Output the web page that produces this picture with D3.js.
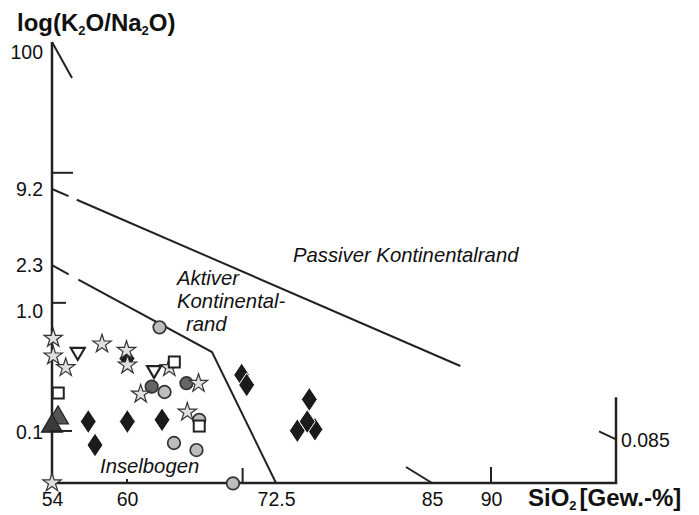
<!doctype html>
<html lang="de">
<head>
<meta charset="utf-8">
<title>log(K2O/Na2O) gegen SiO2</title>
<script src="https://cdn.jsdelivr.net/npm/d3@7/dist/d3.min.js"></script>
<style>
	body { margin: 0; background: #fff; }
	svg { font-family: "Liberation Sans", Arial, sans-serif; }
</style>
</head>
<body>
<svg id="chart" width="699" height="515"></svg>
<script>
// values: [SiO2 Gew.-%, K2O/Na2O]
var stars = [[54.1,0.595],[54.1,0.425],[55.1,0.340],[58.0,0.534],[59.96,0.472],[60.04,0.358],
	[63.55,0.341],[61.15,0.206],[66.0,0.252],[65.06,0.146],[54.0,0.0381]];
var trianglesDown = [[56.06,0.446],[62.27,0.316]];
var trianglesUp = [[54.48,0.136],[54.0,0.116]];
var squares = [[54.5,0.210],[63.97,0.379],[66.06,0.112]];
var circlesLight = [[62.73,0.733],[63.15,0.214],[63.94,0.0812],[65.83,0.0710],[68.89,0.0377],[66.06,0.126]];
var circlesDark = [[62.07,0.237],[64.99,0.253]];
var diamonds = [[60.0,0.405],[56.9,0.122],[57.44,0.0781],[60.03,0.122],[62.94,0.126],[69.62,0.296],
	[70.04,0.245],[75.17,0.186],[74.21,0.1025],[75.62,0.1052],[75.0,0.122]];

// field boundaries
var upperBoundary = [[54,9.2],[87.4,0.351]];
var lowerBoundary = [[54,2.3],[67.13,0.458],[72.5,0.038]];

// axes
var xTicks = [54,60,72.5,85,90];
var yTicks = [100,9.2,2.3,1.0,0.1];
var yTickLabels = ["100","9.2","2.3","1.0","0.1"];
var rightTick = 0.085;
var xMin = 54, xMax = 100.5, yMin = 0.038, yMax = 120, rightTop = 0.194;

var svg = d3.select("#chart");

// the diagram is not strictly linear / logarithmic, so piecewise scales
var xScale = d3.scaleLinear().domain([54,60,72.5,85,90,100.5]).range([52,127,276,432,491,616]);
var yScale = d3.scaleLog().domain([0.038,0.1,1,9.2,100,120]).range([483,432,311,189,52,42]);

var ink = "#222";

// axis lines
svg.append("path")
	.attr("d", d3.line()([[xScale(xMin),yScale(yMax)],[xScale(xMin),yScale(yMin)],[xScale(xMax),yScale(yMin)],[xScale(xMax),yScale(rightTop)]]))
	.attr("fill","none").attr("stroke",ink).attr("stroke-width",2.5);

// tick labels
var yAxis = d3.axisLeft(yScale).tickValues(yTicks).tickFormat(function(d,i){ return yTickLabels[i]; }).tickSize(0).tickPadding(9);
var gy = svg.append("g").attr("transform","translate(" + xScale(xMin) + ",0)").call(yAxis);
var xAxis = d3.axisBottom(xScale).tickValues(xTicks).tickFormat(function(d){ return String(d); }).tickSize(0).tickPadding(9.5);
var gx = svg.append("g").attr("transform","translate(0," + yScale(yMin) + ")").call(xAxis);
var rAxis = d3.axisRight(yScale).tickValues([rightTick]).tickFormat(function(){ return "0.085"; }).tickSize(0).tickPadding(5);
var gr = svg.append("g").attr("transform","translate(" + xScale(xMax) + ",0)").call(rAxis);
[gy,gx,gr].forEach(function(g){
	g.select(".domain").remove();
	g.selectAll("text").attr("font-size",19.5).attr("fill","#111").attr("font-family","Liberation Sans, Arial, sans-serif");
});

// boundary lines
var line = d3.line().x(function(d){ return xScale(d[0]); }).y(function(d){ return yScale(d[1]); });
svg.append("path").attr("d", line(upperBoundary))
	.attr("fill","none").attr("stroke",ink).attr("stroke-width",2)
	.attr("stroke-dasharray","18,9,1000");
svg.append("path").attr("d", line(lowerBoundary))
	.attr("fill","none").attr("stroke",ink).attr("stroke-width",2)
	.attr("stroke-dasharray","19,11,2000");

// symbols
function place(d){ return "translate(" + xScale(d[0]) + "," + yScale(d[1]) + ")"; }

svg.selectAll(".dia").data(diamonds).enter().append("path").attr("class","dia")
	.attr("transform",place).attr("d","M0,-12L8,0L0,12L-8,0Z")
	.attr("fill","#1b1b1b").attr("stroke","#fff").attr("stroke-width",1);

svg.selectAll(".cl").data(circlesLight).enter().append("circle").attr("class","cl")
	.attr("transform",place).attr("r",6.3)
	.attr("fill","#bdbdbd").attr("stroke","#333").attr("stroke-width",1.7);

svg.selectAll(".cd").data(circlesDark).enter().append("circle").attr("class","cd")
	.attr("transform",place).attr("r",6.3)
	.attr("fill","#666").attr("stroke","#333").attr("stroke-width",1.7);

svg.selectAll(".st").data(stars).enter().append("path").attr("class","st")
	.attr("transform",place).attr("d", d3.symbol(d3.symbolStar).size(105)())
	.attr("fill","#e0e0e0").attr("stroke","#333").attr("stroke-width",1.2);

svg.selectAll(".td").data(trianglesDown).enter().append("path").attr("class","td")
	.attr("transform",place).attr("d","M-7,-5.5L7,-5.5L0,6.5Z")
	.attr("fill","#fff").attr("stroke",ink).attr("stroke-width",2.2);

svg.selectAll(".sq").data(squares).enter().append("rect").attr("class","sq")
	.attr("transform",place).attr("x",-5.5).attr("y",-5.5).attr("width",11).attr("height",11)
	.attr("fill","#fff").attr("stroke",ink).attr("stroke-width",2);

svg.selectAll(".tu").data(trianglesUp).enter().append("path").attr("class","tu")
	.attr("transform",place).attr("d","M0,-10L10.5,8L-10.5,8Z")
	.attr("fill",function(d,i){ return i == 0 ? "#555" : "#3a3a3a"; })
	.attr("stroke","#222").attr("stroke-width",1.2);

// small frame ticks
function seg(a,b){ return d3.line()([a,b]); }
var ticks = svg.append("g").attr("stroke",ink).attr("stroke-width",2).attr("fill","none");
var x0 = xScale(xMin), yb = yScale(yMin), xr = xScale(xMax);
ticks.append("path").attr("d", seg([x0,yScale(yMax)],[x0+20,yScale(yMax)+36]));
ticks.append("path").attr("d", seg([x0,yScale(12.2)],[x0+21,yScale(12.2)]));
ticks.append("path").attr("d", seg([x0,yScale(1.16)],[x0+14,yScale(1.16)]));
ticks.append("path").attr("d", seg([x0-2,yScale(0.102)],[x0+20,yScale(0.102)]));
ticks.append("path").attr("d", seg([xScale(60),yb],[xScale(60),yb-4]));
ticks.append("path").attr("d", seg([xScale(69.7),yb],[xScale(69.7),yb-15]));
ticks.append("path").attr("d", seg([xScale(85),yb],[xScale(85)-26,yb-16]));
ticks.append("path").attr("d", seg([xScale(90),yb],[xScale(90),yb-16]));
ticks.append("path").attr("d", seg([xr,yScale(0.087)],[xr-17,yScale(0.087)-8]));

// field names
function label(txt, x, y){
	svg.append("text").attr("x",xScale(x)).attr("y",yScale(y))
		.attr("font-size",20.3).attr("font-style","italic").attr("fill","#111").text(txt);
}
label("Passiver Kontinentalrand", 73.86, 2.44);
label("Aktiver", 64.2, 1.60);
label("Kontinental-", 64.2, 1.056);
label("rand", 64.95, 0.684);
label("Inselbogen", 57.84, 0.0458);

// axis titles
var t = svg.append("text").attr("x",17).attr("y",31).attr("font-size",24).attr("font-weight","bold").attr("fill","#111");
t.append("tspan").text("log(K");
t.append("tspan").attr("font-size",13).attr("dy",4).text("2");
t.append("tspan").attr("dy",-4).text("O/Na");
t.append("tspan").attr("font-size",13).attr("dy",4).text("2");
t.append("tspan").attr("dy",-4).text("O)");

var s = svg.append("text").attr("x",528).attr("y",506).attr("font-size",24).attr("font-weight","bold").attr("fill","#111");
s.append("tspan").text("SiO");
s.append("tspan").attr("font-size",13).attr("dy",4).text("2");
s.append("tspan").attr("dy",-4).attr("dx",3).text("[Gew.-%]");
</script>
</body>
</html>
